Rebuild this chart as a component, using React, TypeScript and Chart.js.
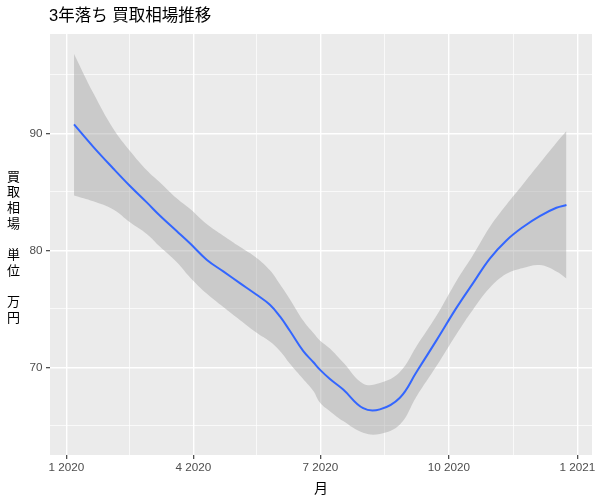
import React, { useEffect, useRef } from "react";
import { Chart, registerables } from "chart.js";

Chart.register(...registerables);

// ---- data ----
const titleText = "3年落ち 買取相場推移";
const xTitle = "月";
const yTitleLines = ["買", "取", "相", "場", "", "単", "位", "", "万", "円"];

// x is days since 1 Jan 2020
const majorDays = [0, 91, 182, 274, 366];
const majorLabels = ["1 2020", "4 2020", "7 2020", "10 2020", "1 2021"];
const minorDays = [45.5, 136.5, 228, 320];
const yMajor = [70, 80, 90];
const yMinor = [65, 75, 85, 95];

const fitDays = [5.5, 19.3, 33.6, 45.6, 57.6, 67.1, 79.0, 88.5, 100.5, 112.4, 124.3, 136.3, 145.8, 153.0, 160.2, 169.6, 176.8, 181.6, 188.8, 198.3, 212.6, 224.6, 238.9, 250.8, 265.1, 279.5, 291.3, 303.3, 315.2, 327.1, 339.1, 351.0, 358.2];
const fitValues = [90.77, 88.85, 87.0, 85.5, 84.1, 82.96, 81.65, 80.6, 79.2, 78.2, 77.2, 76.2, 75.35, 74.35, 73.1, 71.4, 70.45, 69.8, 69.0, 68.1, 66.5, 66.4, 67.4, 69.6, 72.3, 75.1, 77.2, 79.3, 80.85, 82.0, 82.93, 83.64, 83.87];
const bandUpper = [96.8, 93.45, 90.4, 88.5, 86.85, 85.8, 84.45, 83.55, 82.25, 81.25, 80.3, 79.35, 78.3, 77.1, 75.8, 74.0, 72.95, 72.3, 71.6, 70.4, 68.6, 68.65, 69.6, 71.8, 74.4, 77.4, 79.6, 82.0, 83.9, 85.65, 87.44, 89.2, 90.2];
const bandLower = [84.7, 84.2, 83.5, 82.4, 81.4, 80.3, 79.0, 77.7, 76.3, 75.15, 74.05, 72.95, 72.2, 71.4, 70.3, 69.0, 68.0, 67.0, 66.25, 65.4, 64.4, 64.3, 65.1, 67.5, 70.1, 72.85, 74.95, 76.8, 78.0, 78.5, 78.74, 78.2, 77.6];

const xMin = -11.7;
const xMax = 376.5;
const yMin = 62.5;
const yMax = 98.5;

const tickFont = { family: '"Liberation Sans", Arial, sans-serif', size: 11.7 };

const decorPlugin = {
  id: "decor",
  beforeDraw(chart: any) {
    const { ctx, chartArea } = chart;
    ctx.save();
    ctx.fillStyle = "#EBEBEB";
    ctx.fillRect(chartArea.left, chartArea.top, chartArea.right - chartArea.left, chartArea.bottom - chartArea.top);
    ctx.restore();
  },
  afterDraw(chart: any) {
    const { ctx, chartArea } = chart;
    ctx.save();
    ctx.fillStyle = "#000000";
    // title
    ctx.font = '16.5px "Liberation Sans", "Noto Sans CJK JP", sans-serif';
    ctx.textAlign = "left";
    ctx.textBaseline = "middle";
    ctx.fillText(titleText, chartArea.left - 1, 16);
    // y title (stacked characters)
    ctx.font = '13px "Noto Sans CJK JP", sans-serif';
    ctx.textAlign = "center";
    const cy = (chartArea.top + chartArea.bottom) / 2 + 2;
    const lh = 15.7;
    yTitleLines.forEach((t, i) => {
      if (t) ctx.fillText(t, 13.5, cy + (i - (yTitleLines.length - 1) / 2) * lh);
    });
    // x title
    ctx.font = '14px "Noto Sans CJK JP", sans-serif';
    ctx.fillText(xTitle, (chartArea.left + chartArea.right) / 2, 488);
    ctx.restore();
  },
};

export default function App() {
  const ref = useRef<HTMLCanvasElement | null>(null);
  useEffect(() => {
    if (!ref.current) return;
    const isMajorX = (v: number) => majorDays.indexOf(v) >= 0;
    const isMajorY = (v: number) => yMajor.indexOf(v) >= 0;
    const chart = new Chart(ref.current, {
      type: "line",
      data: {
        datasets: [
          {
            label: "fit",
            data: fitDays.map((d, i) => ({ x: d, y: fitValues[i] })),
            borderColor: "#3366FF",
            borderWidth: 2,
            pointRadius: 0,
            fill: false,
            tension: 0.4,
            order: 0,
          },
          {
            label: "lower",
            data: fitDays.map((d, i) => ({ x: d, y: bandLower[i] })),
            borderColor: "rgba(0,0,0,0)",
            borderWidth: 0,
            pointRadius: 0,
            fill: false,
            tension: 0.4,
            order: 1,
          },
          {
            label: "upper",
            data: fitDays.map((d, i) => ({ x: d, y: bandUpper[i] })),
            borderColor: "rgba(0,0,0,0)",
            borderWidth: 0,
            pointRadius: 0,
            backgroundColor: "rgba(153,153,153,0.4)",
            fill: 1,
            tension: 0.4,
            order: 2,
          },
        ],
      },
      options: {
        animation: false,
        responsive: false,
        devicePixelRatio: 1,
        layout: { padding: { top: 34, right: 8, bottom: 0, left: 0 } },
        plugins: {
          legend: { display: false },
          tooltip: { enabled: false },
          title: { display: false },
        },
        scales: {
          x: {
            type: "linear",
            min: xMin,
            max: xMax,
            afterBuildTicks: (scale: any) => {
              scale.ticks = [...majorDays, ...minorDays].sort((a, b) => a - b).map((v) => ({ value: v }));
            },
            afterFit: (scale: any) => {
              scale.height = 45;
            },
            border: { display: false },
            grid: {
              color: "#FFFFFF",
              lineWidth: (c: any) => (c.tick && isMajorX(c.tick.value) ? 1.4 : 0.7),
              tickColor: (c: any) => (c.tick && isMajorX(c.tick.value) ? "#333333" : "rgba(0,0,0,0)"),
              tickWidth: 1.1,
              tickLength: 4,
              drawTicks: true,
            },
            ticks: {
              autoSkip: false,
              maxRotation: 0,
              minRotation: 0,
              padding: 2,
              color: "#4D4D4D",
              font: tickFont,
              callback: (v: any) => {
                const i = majorDays.indexOf(Number(v));
                return i >= 0 ? majorLabels[i] : "";
              },
            },
          },
          y: {
            type: "linear",
            min: yMin,
            max: yMax,
            afterBuildTicks: (scale: any) => {
              scale.ticks = [...yMajor, ...yMinor].sort((a, b) => a - b).map((v) => ({ value: v }));
            },
            afterFit: (scale: any) => {
              scale.width = 50;
            },
            border: { display: false },
            grid: {
              color: "#FFFFFF",
              lineWidth: (c: any) => (c.tick && isMajorY(c.tick.value) ? 1.4 : 0.7),
              tickColor: (c: any) => (c.tick && isMajorY(c.tick.value) ? "#333333" : "rgba(0,0,0,0)"),
              tickWidth: 1.1,
              tickLength: 4,
              drawTicks: true,
            },
            ticks: {
              autoSkip: false,
              padding: 3.5,
              color: "#4D4D4D",
              font: tickFont,
              callback: (v: any) => (isMajorY(Number(v)) ? String(v) : ""),
            },
          },
        },
      },
      plugins: [decorPlugin],
    } as any);
    return () => chart.destroy();
  }, []);
  return (
    <div style={{ position: "absolute", left: 0, top: 0, width: 600, height: 500, background: "#FFFFFF" }}>
      <canvas ref={ref} width={600} height={500} style={{ display: "block" }} />
    </div>
  );
}
